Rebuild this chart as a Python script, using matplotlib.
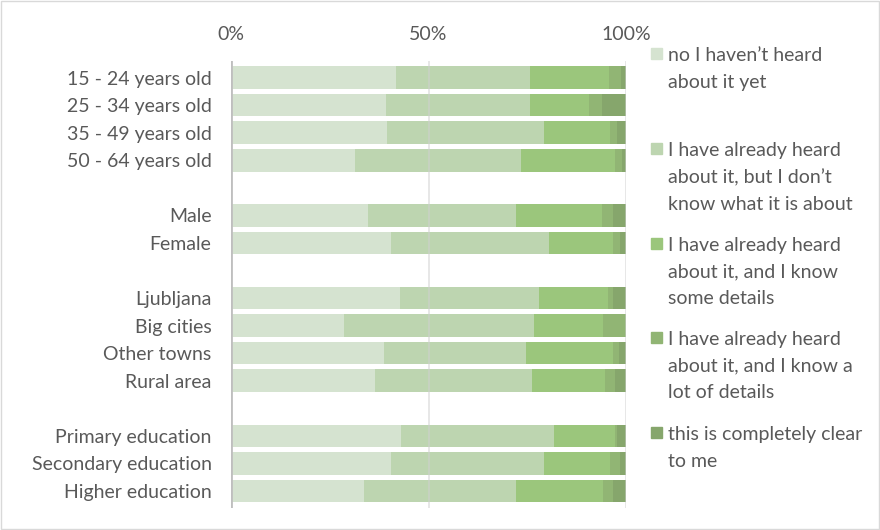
import matplotlib
matplotlib.use("Agg")
import matplotlib.pyplot as plt
from matplotlib.patches import Rectangle

categories = ["15 - 24 years old", "25 - 34 years old", "35 - 49 years old", "50 - 64 years old",
              "Male", "Female",
              "Ljubljana", "Big cities", "Other towns", "Rural area",
              "Primary education", "Secondary education", "Higher education"]
slots = [0, 1, 2, 3, 5, 6, 8, 9, 10, 11, 13, 14, 15]

series_names = ["no I haven\u2019t heard\nabout it yet",
                "I have already heard\nabout it, but I don\u2019t\nknow what it is about",
                "I have already heard\nabout it, and I know\nsome details",
                "I have already heard\nabout it, and I know a\nlot of details",
                "this is completely clear\nto me"]

s1 = [41.8, 39.3, 39.5, 31.4, 34.6, 40.5, 42.7, 28.6, 38.7, 36.5, 43.1, 40.5, 33.7]
s2 = [34.0, 36.5, 39.8, 42.0, 37.5, 40.1, 35.3, 48.1, 35.9, 39.7, 38.7, 38.8, 38.4]
s3 = [19.8, 14.9, 16.6, 23.7, 21.8, 16.1, 17.4, 17.5, 22.1, 18.6, 15.5, 16.6, 22.0]
s4 = [3.1, 3.2, 1.8, 1.9, 2.8, 1.7, 1.3, 5.8, 1.6, 2.4, 0.4, 2.5, 2.6]
s5 = [1.3, 6.1, 2.3, 1.0, 3.3, 1.6, 3.3, 0.0, 1.7, 2.8, 2.3, 1.6, 3.3]
series = [s1, s2, s3, s4, s5]
colors = ["#d5e3d0", "#bdd5b0", "#9bc67c", "#91b574", "#86a66c"]

xticks = [0, 50, 100]
xtick_labels = ["0%", "50%", "100%"]

txt = "#595959"
fs = 14
plt.rcParams['font.family'] = ['Lato', 'DejaVu Sans']

fig = plt.figure(figsize=(8.8, 5.3), dpi=100)
ax = fig.add_axes([231/880, 1-507.5/530, (626-231)/880, (507.5-61)/530])

left = [0.0]*len(categories)
for vals, col in zip(series, colors):
    ax.barh(slots, vals, left=left, height=0.82, color=col, linewidth=0, zorder=2)
    left = [l+v for l, v in zip(left, vals)]

ax.set_xlim(0, 100)
ax.set_ylim(15.6, -0.6)
ax.set_yticks(slots)
ax.set_yticklabels(categories, fontsize=fs, color=txt)
ax.xaxis.tick_top()
ax.set_xticks(xticks)
ax.set_xticklabels(xtick_labels, fontsize=fs, color=txt)
ax.tick_params(axis='both', length=0)
ax.tick_params(axis='x', pad=13)
ax.tick_params(axis='y', pad=14)
for sp in ax.spines.values():
    sp.set_visible(False)
for x in xticks[1:]:
    ax.axvline(x, color="#d0d0d0", lw=1.2, zorder=3, alpha=0.6)
ax.axvline(0, color="#bfbfbf", lw=2, zorder=3)

# legend
leg_tops = [53, 148, 243, 337, 432]
for ytop, col, name in zip(leg_tops, colors, series_names):
    fig.patches.append(Rectangle((651/880, 1-(ytop+6)/530), 11/880, 11/530,
                                 transform=fig.transFigure, color=col, figure=fig))
    fig.text(668/880, 1-(ytop-6)/530, name, fontsize=fs, color=txt, va='top', ha='left',
             linespacing=1.68)

fig.patches.append(Rectangle((1/880, 1/530), 878/880, 528/530, transform=fig.transFigure,
                             fill=False, edgecolor="#d9d9d9", lw=1, figure=fig))

fig.savefig("out.png", dpi=100)
